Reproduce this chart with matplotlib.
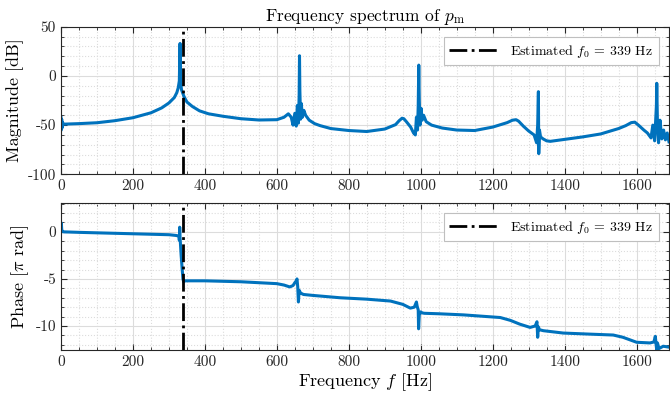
import numpy as np
import matplotlib
matplotlib.use('Agg')
import matplotlib.pyplot as plt
from matplotlib.ticker import MultipleLocator

# values
f0_est = 339

mag_freq = [0, 1, 2, 3, 4, 6, 10, 50, 100, 150, 200, 250, 280, 300, 315, 322, 326, 329,
            330, 331, 332, 333, 335, 338, 342, 350, 365, 385, 410, 450, 500, 550, 600,
            620, 632, 640, 645, 650, 654, 657, 660, 662, 663, 664, 666, 668, 671, 675,
            680, 690, 705, 720, 750, 800, 850, 900, 930, 940, 948, 953, 960, 972, 980,
            985, 988, 991, 993, 994.5, 996, 998, 1001, 1004, 1008, 1015, 1030, 1060,
            1100, 1150, 1200, 1240, 1255, 1265, 1272, 1285, 1300, 1315, 1322, 1325, 1327,
            1328, 1330, 1333, 1340, 1350, 1360, 1400, 1450, 1500, 1550, 1570, 1585, 1595,
            1605, 1620, 1630, 1640, 1645, 1650, 1653, 1655, 1656, 1658, 1661, 1665, 1670,
            1675, 1680, 1685, 1690]
mag_db = [-42, -55, -44, -53, -47, -49, -49, -48.5, -47.6, -45.5, -42.5, -37.5, -32.5,
          -27.5, -22, -17, -12, -5, 15, 33, 10, -8, -14, -17, -21, -26.5, -31, -35.5,
          -38.5, -41, -43.5, -44.8, -44.5, -42, -38.5, -42, -50, -38, -51, -30, -48,
          -20, 20.5, -15, -44, -28, -42, -35, -40, -45, -48.5, -50.5, -53.5, -55.5,
          -56.5, -54, -49.5, -45.5, -43, -43.5, -46.5, -52, -58, -60, -42, -55, -30,
          11, -25, -50, -33, -45, -40, -46.5, -50, -53, -55, -55.5, -52, -47.5, -45,
          -44.5, -46, -51, -56, -60, -68, -50, -16, -79, -55, -62, -64, -66, -66.5,
          -64.5, -62, -59, -53.5, -50.5, -47.5, -47, -50, -55, -58, -63, -50, -66, -45,
          -30, -7.5, -50, -68, -45, -64, -55, -65, -58, -67]

phase_freq = [0, 1, 2, 3, 5, 10, 50, 100, 200, 300, 320, 328, 329, 330, 331, 332, 334,
              337, 339, 341, 345, 400, 500, 600, 620, 636, 645, 650, 654, 656, 658, 660,
              662, 666, 674, 700, 776, 850, 916, 950, 971, 982, 988, 990, 993, 994, 996,
              1000, 1003, 1010, 1050, 1119, 1221, 1249, 1275, 1304, 1318, 1323, 1325,
              1327, 1330, 1341, 1396, 1460, 1535, 1562, 1600, 1637, 1648, 1652, 1654,
              1656, 1658, 1662, 1674, 1690]
phase_pi = [0.8, 0.95, 0.3, 0.1, 0.02, 0.0, -0.05, -0.1, -0.2, -0.3, -0.38, -0.45, -0.9,
            0.5, -0.6, -1.2, -2.5, -4.0, -5.0, -5.3, -5.2, -5.2, -5.3, -5.5, -5.65, -5.85,
            -5.7, -5.4, -5.2, -5.0, -5.8, -7.45, -6.2, -6.5, -6.65, -6.75, -7.0, -7.15,
            -7.35, -7.7, -8.1, -8.0, -7.45, -7.9, -8.3, -10.3, -8.8, -8.5, -8.6, -8.65,
            -8.7, -8.82, -9.1, -9.4, -9.8, -10.15, -10.0, -9.55, -11.2, -10.1, -10.4,
            -10.5, -10.75, -10.85, -10.96, -11.2, -11.73, -11.8, -11.7, -11.1, -11.9,
            -12.6, -11.8, -12.4, -12.15, -12.25]


plt.rcParams['font.family'] = 'cmr10'
plt.rcParams['mathtext.fontset'] = 'cm'
plt.rcParams['axes.formatter.use_mathtext'] = False
plt.rcParams['axes.unicode_minus'] = False

line_color = '#0072BD'
axis_color = '#262626'

fig = plt.figure(figsize=(6.7, 3.94), dpi=100)
ax_mag = fig.add_axes([0.091, 0.5576, 0.9075, 0.3746])
ax_ph = fig.add_axes([0.091, 0.1117, 0.9075, 0.3738])


def style_axes(ax):
    ax.set_xlim(0, 1690)
    ax.xaxis.set_major_locator(MultipleLocator(200))
    ax.xaxis.set_minor_locator(MultipleLocator(50))
    ax.grid(True, which='major', color='#dcdcdc', linewidth=0.8)
    ax.grid(True, which='minor', color='#dcdcdc', linestyle=':', linewidth=0.8)
    ax.set_axisbelow(True)
    ax.tick_params(which='both', direction='in', top=True, right=True,
                   color=axis_color, labelsize=11, labelcolor=axis_color)
    ax.tick_params(which='major', length=4)
    ax.tick_params(which='minor', length=2)
    for spine in ax.spines.values():
        spine.set_color(axis_color)
        spine.set_linewidth(0.8)


def add_legend(ax):
    leg = ax.legend(loc='upper right', fontsize=10, fancybox=False, framealpha=1,
                    edgecolor='#bfbfbf', handlelength=3.6, borderaxespad=0.75)
    leg.get_frame().set_linewidth(0.8)


# magnitude
ax_mag.plot(mag_freq, mag_db, color=line_color, linewidth=2.2)
ax_mag.axvline(f0_est, color='k', linestyle='-.', linewidth=2,
               label=r'Estimated $f_0$ = 339 Hz')
ax_mag.set_ylim(-100, 50)
ax_mag.yaxis.set_major_locator(MultipleLocator(50))
ax_mag.yaxis.set_minor_locator(MultipleLocator(10))
style_axes(ax_mag)
ax_mag.set_ylabel('Magnitude [dB]', fontsize=13, labelpad=3)
ax_mag.set_title(r'Frequency spectrum of $p_\mathrm{m}$', fontsize=12.5, pad=4)
add_legend(ax_mag)

# phase
ax_ph.plot(phase_freq, phase_pi, color=line_color, linewidth=2.2)
ax_ph.axvline(f0_est, color='k', linestyle='-.', linewidth=2,
              label=r'Estimated $f_0$ = 339 Hz')
ax_ph.set_ylim(-12.55, 3.1)
ax_ph.yaxis.set_major_locator(MultipleLocator(5))
ax_ph.yaxis.set_minor_locator(MultipleLocator(1))
style_axes(ax_ph)
ax_ph.set_ylabel(r'Phase [$\pi$ rad]', fontsize=13, labelpad=3)
ax_ph.set_xlabel(r'Frequency $f$ [Hz]', fontsize=13, labelpad=2)
add_legend(ax_ph)

fig.savefig('out.png', dpi=100)
